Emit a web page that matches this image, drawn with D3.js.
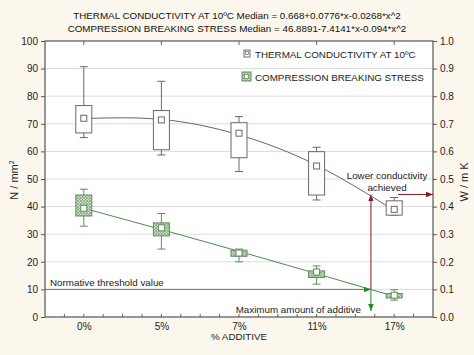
<!DOCTYPE html>
<html><head><meta charset="utf-8">
<script src="https://cdn.jsdelivr.net/npm/d3@7"></script>
<style>
html,body{margin:0;padding:0;background:#fcf7ec;}
svg{display:block;font-family:"Liberation Sans",Arial,sans-serif;}
</style></head>
<body><svg id="c" width="474" height="355"></svg>
<script>
const categories = ["0%","5%","7%","11%","17%"];
// Thermal conductivity (W/mK): whisker low, box low, median, box high, whisker high
const thermalWhiskerLow = [0.650,0.587,0.527,0.424,0.369];
const thermalBoxLow     = [0.667,0.606,0.577,0.442,0.369];
const thermalMedian     = [0.720,0.714,0.666,0.547,0.390];
const thermalBoxHigh    = [0.766,0.748,0.704,0.599,0.421];
const thermalWhiskerHigh= [0.907,0.854,0.726,0.615,0.433];
const thermalFit        = [0.719,0.716,0.660,0.550,0.386];
// Compression breaking stress (N/mm2)
const compWhiskerLow = [32.9,24.6,20.0,11.9,6.1];
const compBoxLow     = [36.6,29.4,22.0,14.3,6.9];
const compMedian     = [39.4,32.3,23.2,16.3,7.9];
const compBoxHigh    = [44.2,34.1,24.2,16.7,8.5];
const compWhiskerHigh= [46.3,37.5,24.6,18.5,9.9];
const compFit        = [39.4,31.7,23.8,15.7,7.5];
const leftTicks  = [0,10,20,30,40,50,60,70,80,90,100];
const rightTicks = [0,0.1,0.2,0.3,0.4,0.5,0.6,0.7,0.8,0.9,1.0];
const thresholdValue = 10;
const conductivityTarget = 0.444;
const additiveLimit = 3.7; // position along category index (0-based)
const titleLines = ["THERMAL CONDUCTIVITY AT 10ºC Median = 0.668+0.0776*x-0.0268*x^2",
                    "COMPRESSION BREAKING STRESS Median = 46.8891-7.4141*x-0.094*x^2"];

const FS = 9.8;
const svg = d3.select("#c");
const L=45,R=433,T=41,B=317;
const x = d3.scalePoint().domain(categories).range([L,R]).padding(0.5);
const xi = d3.scaleLinear().domain([0,4]).range([x(categories[0]),x(categories[4])]);
const yL = d3.scaleLinear().domain([0,100]).range([B,T]);
const yR = d3.scaleLinear().domain([0,1]).range([B,T]);

const defs = svg.append("defs");
const pat = defs.append("pattern").attr("id","hatch").attr("patternUnits","userSpaceOnUse").attr("width",3).attr("height",3);
pat.append("rect").attr("width",3).attr("height",3).attr("fill","#c9dcc3");
pat.append("path").attr("d","M0,3 L3,0 M0,0 L3,3").attr("stroke","#7fa279").attr("stroke-width",0.7);
function marker(id,color){
  defs.append("marker").attr("id",id).attr("viewBox","0 0 10 10").attr("refX",10).attr("refY",5)
   .attr("markerWidth",7).attr("markerHeight",7).attr("markerUnits","userSpaceOnUse").attr("orient","auto")
   .append("path").attr("d","M0,1 L10,5 L0,9 Z").attr("fill",color);
}
marker("arrRed","#8b1520"); marker("arrGreen","#1f8a2a");

// plot background
svg.append("rect").attr("x",L).attr("y",T).attr("width",R-L).attr("height",B-T).attr("fill","#fff");
// grid
svg.append("g").selectAll("line").data(leftTicks.slice(1,-1)).join("line")
  .attr("x1",L).attr("x2",R).attr("y1",d=>yL(d)).attr("y2",d=>yL(d)).attr("stroke","#dcdcdc").attr("stroke-width",1);

// axes
const axL = svg.append("g").attr("transform",`translate(${L},0)`).call(d3.axisLeft(yL).tickValues(leftTicks).tickSize(4).tickPadding(3));
const axR = svg.append("g").attr("transform",`translate(${R},0)`).call(d3.axisRight(yR).tickValues(rightTicks).tickSize(4).tickPadding(3).tickFormat(d3.format(".1f")));
const axB = svg.append("g").attr("transform",`translate(0,${B})`).call(d3.axisBottom(x).tickSize(0).tickPadding(6));
[axL,axR,axB].forEach(g=>{g.select(".domain").remove();g.selectAll("text").attr("font-size",10).attr("fill","#222").style("font-family","Liberation Sans, Arial, sans-serif");g.selectAll("line").attr("stroke","#555");});
// minor ticks bottom (quarter steps) and top at categories
const step = x.step();
const minor = d3.range(1,20).map(i=>L+i*step/4);
svg.append("g").selectAll("line").data(minor).join("line").attr("x1",d=>d).attr("x2",d=>d).attr("y1",B).attr("y2",B-3).attr("stroke","#666");
svg.append("g").selectAll("line").data(categories).join("line").attr("x1",d=>x(d)).attr("x2",d=>x(d)).attr("y1",T).attr("y2",T+4).attr("stroke","#666");
// frame
svg.append("rect").attr("x",L).attr("y",T).attr("width",R-L).attr("height",B-T).attr("fill","none").attr("stroke","#555").attr("stroke-width",1.2);

// Legend
const lg = svg.append("g");
lg.append("rect").attr("x",244).attr("y",50).attr("width",6).attr("height",7).attr("fill","#fff").attr("stroke","#7a6a6a");
lg.append("rect").attr("x",245.5).attr("y",51.5).attr("width",3).attr("height",3).attr("fill","none").attr("stroke","#7a6a6a").attr("stroke-width",0.7);
lg.append("text").attr("x",255).attr("y",58).attr("font-size",FS).attr("fill","#222").text("THERMAL CONDUCTIVITY AT 10ºC");
lg.append("rect").attr("x",242).attr("y",72).attr("width",9).attr("height",9).attr("fill","url(#hatch)").attr("stroke","#5f8f5a");
lg.append("rect").attr("x",244.5).attr("y",74.5).attr("width",4).attr("height",4).attr("fill","#fff").attr("stroke","#5f8f5a").attr("stroke-width",0.7);
lg.append("text").attr("x",255).attr("y",81).attr("font-size",FS).attr("fill","#222").text("COMPRESSION BREAKING STRESS");

// annotations (lines under marks)
const thY = yL(thresholdValue);
const vx = xi(additiveLimit);
svg.append("line").attr("x1",L).attr("x2",vx).attr("y1",thY).attr("y2",thY).attr("stroke","#3a9a3a").attr("stroke-width",1).attr("marker-end","url(#arrGreen)");
svg.append("line").attr("x1",vx).attr("x2",vx).attr("y1",thY).attr("y2",yR(conductivityTarget)).attr("stroke","#8b1520").attr("stroke-width",1).attr("marker-end","url(#arrRed)");
svg.append("line").attr("x1",vx).attr("x2",vx).attr("y1",thY).attr("y2",B-6).attr("stroke","#1f8a2a").attr("stroke-width",1).attr("marker-end","url(#arrGreen)");
svg.append("line").attr("x1",398).attr("x2",R).attr("y1",yR(conductivityTarget)).attr("y2",yR(conductivityTarget)).attr("stroke","#8b1520").attr("stroke-width",1).attr("marker-end","url(#arrRed)");

// fit lines
const idx = d3.range(categories.length);
svg.append("path").datum(idx).attr("fill","none").attr("stroke","#6e6262").attr("stroke-width",1)
  .attr("d",d3.line().x(i=>x(categories[i])).y(i=>yR(thermalFit[i])).curve(d3.curveNatural));
svg.append("path").datum(idx).attr("fill","none").attr("stroke","#4c8c48").attr("stroke-width",1)
  .attr("d",d3.line().x(i=>x(categories[i])).y(i=>yL(compFit[i])).curve(d3.curveNatural));

// boxes
const bw=16, cw=8;
function boxes(scale, wl,bl,md,bh,wh, fill, stroke, mfill){
  const g = svg.append("g");
  idx.forEach(i=>{
    const cx = x(categories[i]);
    g.append("line").attr("x1",cx).attr("x2",cx).attr("y1",scale(wh[i])).attr("y2",scale(wl[i])).attr("stroke",stroke);
    g.append("line").attr("x1",cx-cw/2).attr("x2",cx+cw/2).attr("y1",scale(wh[i])).attr("y2",scale(wh[i])).attr("stroke",stroke);
    g.append("line").attr("x1",cx-cw/2).attr("x2",cx+cw/2).attr("y1",scale(wl[i])).attr("y2",scale(wl[i])).attr("stroke",stroke);
    g.append("rect").attr("x",cx-bw/2).attr("y",scale(bh[i])).attr("width",bw).attr("height",Math.max(1,scale(bl[i])-scale(bh[i])))
      .attr("fill",fill).attr("stroke",stroke);
    g.append("rect").attr("x",cx-3).attr("y",scale(md[i])-3).attr("width",6).attr("height",6).attr("fill",mfill).attr("stroke",stroke);
  });
}
boxes(yR, thermalWhiskerLow,thermalBoxLow,thermalMedian,thermalBoxHigh,thermalWhiskerHigh,"#fff","#6e6666","#fff");
boxes(yL, compWhiskerLow,compBoxLow,compMedian,compBoxHigh,compWhiskerHigh,"url(#hatch)","#5f8f5a","#fff");

// annotation texts
const at = svg.append("g").attr("font-size",FS).attr("fill","#222");
at.append("text").attr("x",50).attr("y",thY-3).text("Normative threshold value");
at.append("text").attr("x",387).attr("y",179).attr("text-anchor","middle").text("Lower conductivity");
at.append("text").attr("x",387).attr("y",191).attr("text-anchor","middle").text("achieved");
at.append("text").attr("x",vx-10).attr("y",313).attr("text-anchor","end").text("Maximum amount of additive");

// titles
svg.append("g").selectAll("text").data(titleLines).join("text")
  .attr("x",237).attr("y",(d,i)=>19+i*13).attr("text-anchor","middle").attr("font-size",FS).attr("fill","#111").text(d=>d);
// axis titles
svg.append("text").attr("x",239).attr("y",340).attr("text-anchor","middle").attr("font-size",FS).attr("fill","#222").text("% ADDITIVE");
const ly = svg.append("text").attr("transform","translate(18,180) rotate(-90)").attr("text-anchor","middle").attr("font-size",11).attr("fill","#222");
ly.append("tspan").text("N / mm");
ly.append("tspan").attr("dy",-4).attr("font-size",7).text("2");
svg.append("text").attr("transform","translate(468,182) rotate(-90)").attr("text-anchor","middle").attr("font-size",11).attr("fill","#222").text("W / m K");
</script></body></html>
